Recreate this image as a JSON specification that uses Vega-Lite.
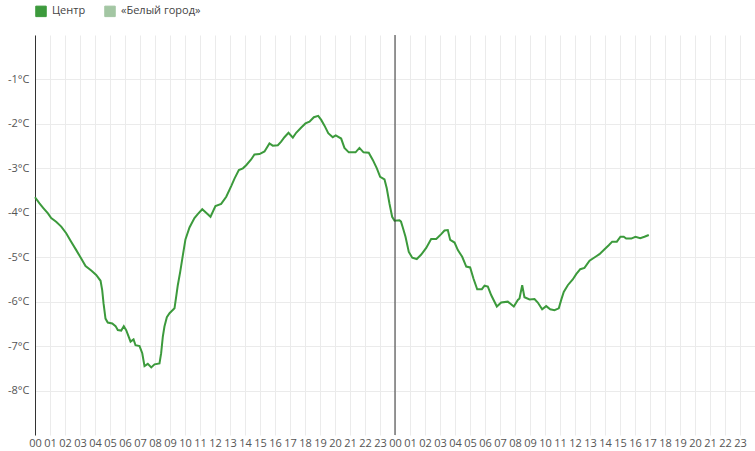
{
  "$schema": "https://vega.github.io/schema/vega-lite/v6.json",
  "width": 720,
  "height": 400,
  "autosize": {"type": "none"},
  "padding": {"left": 35, "top": 35, "right": 0, "bottom": 16},
  "config": {
    "view": {"stroke": null},
    "font": "Open Sans",
    "axis": {"gridColor": "#ebebeb", "gridWidth": 1, "labelFont": "Open Sans", "labelFontSize": 11, "labelColor": "#555", "ticks": false, "title": null}
  },
  "layer": [
    {
      "data": {"values": [
        {"h":0,"v":-3.65,"s":"Центр"},{"h":0.3,"v":-3.79,"s":"Центр"},{"h":0.57,"v":-3.9,"s":"Центр"},{"h":0.85,"v":-4.01,"s":"Центр"},{"h":1.08,"v":-4.12,"s":"Центр"},{"h":1.41,"v":-4.2,"s":"Центр"},{"h":1.75,"v":-4.31,"s":"Центр"},{"h":2.08,"v":-4.46,"s":"Центр"},{"h":2.41,"v":-4.65,"s":"Центр"},{"h":2.75,"v":-4.84,"s":"Центр"},{"h":3.08,"v":-5.03,"s":"Центр"},{"h":3.37,"v":-5.2,"s":"Центр"},{"h":3.75,"v":-5.3,"s":"Центр"},{"h":4.08,"v":-5.4,"s":"Центр"},{"h":4.37,"v":-5.53,"s":"Центр"},{"h":4.48,"v":-5.74,"s":"Центр"},{"h":4.57,"v":-6.04,"s":"Центр"},{"h":4.7,"v":-6.38,"s":"Центр"},{"h":4.85,"v":-6.47,"s":"Центр"},{"h":5.15,"v":-6.49,"s":"Центр"},{"h":5.37,"v":-6.55,"s":"Центр"},{"h":5.52,"v":-6.64,"s":"Центр"},{"h":5.75,"v":-6.65,"s":"Центр"},{"h":5.92,"v":-6.55,"s":"Центр"},{"h":6.08,"v":-6.64,"s":"Центр"},{"h":6.25,"v":-6.79,"s":"Центр"},{"h":6.37,"v":-6.9,"s":"Центр"},{"h":6.57,"v":-6.85,"s":"Центр"},{"h":6.7,"v":-6.98,"s":"Центр"},{"h":6.97,"v":-7.0,"s":"Центр"},{"h":7.15,"v":-7.16,"s":"Центр"},{"h":7.3,"v":-7.45,"s":"Центр"},{"h":7.52,"v":-7.4,"s":"Центр"},{"h":7.75,"v":-7.48,"s":"Центр"},{"h":7.97,"v":-7.41,"s":"Центр"},{"h":8.3,"v":-7.39,"s":"Центр"},{"h":8.41,"v":-7.16,"s":"Центр"},{"h":8.52,"v":-6.79,"s":"Центр"},{"h":8.63,"v":-6.56,"s":"Центр"},{"h":8.79,"v":-6.35,"s":"Центр"},{"h":8.97,"v":-6.26,"s":"Центр"},{"h":9.15,"v":-6.2,"s":"Центр"},{"h":9.3,"v":-6.15,"s":"Центр"},{"h":9.41,"v":-5.89,"s":"Центр"},{"h":9.52,"v":-5.63,"s":"Центр"},{"h":9.68,"v":-5.33,"s":"Центр"},{"h":9.85,"v":-4.97,"s":"Центр"},{"h":10.03,"v":-4.6,"s":"Центр"},{"h":10.3,"v":-4.33,"s":"Центр"},{"h":10.63,"v":-4.12,"s":"Центр"},{"h":10.85,"v":-4.03,"s":"Центр"},{"h":11.15,"v":-3.92,"s":"Центр"},{"h":11.41,"v":-4.0,"s":"Центр"},{"h":11.7,"v":-4.09,"s":"Центр"},{"h":12.03,"v":-3.85,"s":"Центр"},{"h":12.41,"v":-3.8,"s":"Центр"},{"h":12.75,"v":-3.64,"s":"Центр"},{"h":13.08,"v":-3.4,"s":"Центр"},{"h":13.3,"v":-3.23,"s":"Центр"},{"h":13.59,"v":-3.04,"s":"Центр"},{"h":13.86,"v":-3.0,"s":"Центр"},{"h":14.08,"v":-2.93,"s":"Центр"},{"h":14.41,"v":-2.8,"s":"Центр"},{"h":14.63,"v":-2.69,"s":"Центр"},{"h":14.97,"v":-2.68,"s":"Центр"},{"h":15.3,"v":-2.62,"s":"Центр"},{"h":15.63,"v":-2.44,"s":"Центр"},{"h":15.85,"v":-2.49,"s":"Центр"},{"h":16.19,"v":-2.48,"s":"Центр"},{"h":16.41,"v":-2.4,"s":"Центр"},{"h":16.63,"v":-2.3,"s":"Центр"},{"h":16.9,"v":-2.2,"s":"Центр"},{"h":17.19,"v":-2.31,"s":"Центр"},{"h":17.41,"v":-2.2,"s":"Центр"},{"h":17.75,"v":-2.08,"s":"Центр"},{"h":18.03,"v":-1.99,"s":"Центр"},{"h":18.3,"v":-1.95,"s":"Центр"},{"h":18.59,"v":-1.85,"s":"Центр"},{"h":18.88,"v":-1.82,"s":"Центр"},{"h":19.08,"v":-1.91,"s":"Центр"},{"h":19.3,"v":-2.04,"s":"Центр"},{"h":19.55,"v":-2.21,"s":"Центр"},{"h":19.85,"v":-2.3,"s":"Центр"},{"h":20.05,"v":-2.26,"s":"Центр"},{"h":20.41,"v":-2.33,"s":"Центр"},{"h":20.63,"v":-2.54,"s":"Центр"},{"h":20.92,"v":-2.64,"s":"Центр"},{"h":21.37,"v":-2.64,"s":"Центр"},{"h":21.63,"v":-2.54,"s":"Центр"},{"h":21.9,"v":-2.64,"s":"Центр"},{"h":22.25,"v":-2.65,"s":"Центр"},{"h":22.52,"v":-2.81,"s":"Центр"},{"h":22.79,"v":-3.0,"s":"Центр"},{"h":23.01,"v":-3.19,"s":"Центр"},{"h":23.3,"v":-3.25,"s":"Центр"},{"h":23.45,"v":-3.45,"s":"Центр"},{"h":23.63,"v":-3.79,"s":"Центр"},{"h":23.81,"v":-4.09,"s":"Центр"},{"h":23.97,"v":-4.18,"s":"Центр"},{"h":24.3,"v":-4.17,"s":"Центр"},{"h":24.4,"v":-4.2,"s":"Центр"},{"h":24.52,"v":-4.33,"s":"Центр"},{"h":24.7,"v":-4.54,"s":"Центр"},{"h":24.92,"v":-4.88,"s":"Центр"},{"h":25.15,"v":-5.01,"s":"Центр"},{"h":25.45,"v":-5.04,"s":"Центр"},{"h":25.75,"v":-4.94,"s":"Центр"},{"h":26.08,"v":-4.79,"s":"Центр"},{"h":26.41,"v":-4.59,"s":"Центр"},{"h":26.75,"v":-4.59,"s":"Центр"},{"h":27.08,"v":-4.48,"s":"Центр"},{"h":27.3,"v":-4.4,"s":"Центр"},{"h":27.52,"v":-4.39,"s":"Центр"},{"h":27.68,"v":-4.61,"s":"Центр"},{"h":27.97,"v":-4.67,"s":"Центр"},{"h":28.19,"v":-4.84,"s":"Центр"},{"h":28.48,"v":-4.99,"s":"Центр"},{"h":28.75,"v":-5.21,"s":"Центр"},{"h":29.01,"v":-5.23,"s":"Центр"},{"h":29.23,"v":-5.48,"s":"Центр"},{"h":29.48,"v":-5.72,"s":"Центр"},{"h":29.79,"v":-5.72,"s":"Центр"},{"h":29.97,"v":-5.64,"s":"Центр"},{"h":30.19,"v":-5.66,"s":"Центр"},{"h":30.41,"v":-5.85,"s":"Центр"},{"h":30.79,"v":-6.11,"s":"Центр"},{"h":31.08,"v":-6.02,"s":"Центр"},{"h":31.52,"v":-6.0,"s":"Центр"},{"h":31.92,"v":-6.11,"s":"Центр"},{"h":32.19,"v":-5.96,"s":"Центр"},{"h":32.3,"v":-5.93,"s":"Центр"},{"h":32.48,"v":-5.63,"s":"Центр"},{"h":32.63,"v":-5.9,"s":"Центр"},{"h":32.97,"v":-5.95,"s":"Центр"},{"h":33.3,"v":-5.94,"s":"Центр"},{"h":33.52,"v":-6.02,"s":"Центр"},{"h":33.81,"v":-6.17,"s":"Центр"},{"h":34.08,"v":-6.1,"s":"Центр"},{"h":34.35,"v":-6.17,"s":"Центр"},{"h":34.63,"v":-6.19,"s":"Центр"},{"h":34.92,"v":-6.15,"s":"Центр"},{"h":35.08,"v":-5.96,"s":"Центр"},{"h":35.25,"v":-5.78,"s":"Центр"},{"h":35.52,"v":-5.63,"s":"Центр"},{"h":35.85,"v":-5.5,"s":"Центр"},{"h":36.08,"v":-5.38,"s":"Центр"},{"h":36.35,"v":-5.27,"s":"Центр"},{"h":36.63,"v":-5.24,"s":"Центр"},{"h":36.97,"v":-5.08,"s":"Центр"},{"h":37.37,"v":-4.99,"s":"Центр"},{"h":37.63,"v":-4.93,"s":"Центр"},{"h":37.97,"v":-4.82,"s":"Центр"},{"h":38.25,"v":-4.73,"s":"Центр"},{"h":38.48,"v":-4.65,"s":"Центр"},{"h":38.79,"v":-4.65,"s":"Центр"},{"h":39.03,"v":-4.54,"s":"Центр"},{"h":39.25,"v":-4.54,"s":"Центр"},{"h":39.41,"v":-4.58,"s":"Центр"},{"h":39.75,"v":-4.58,"s":"Центр"},{"h":40.03,"v":-4.54,"s":"Центр"},{"h":40.35,"v":-4.57,"s":"Центр"},{"h":40.63,"v":-4.54,"s":"Центр"},{"h":40.92,"v":-4.5,"s":"Центр"}
      ]},
      "mark": {"type": "line", "strokeWidth": 2, "interpolate": "linear"},
      "encoding": {
        "x": {
          "field": "h", "type": "quantitative",
          "scale": {"domain": [0, 48], "nice": false, "zero": false},
          "axis": {
            "values": [0,1,2,3,4,5,6,7,8,9,10,11,12,13,14,15,16,17,18,19,20,21,22,23,24,25,26,27,28,29,30,31,32,33,34,35,36,37,38,39,40,41,42,43,44,45,46,47],
            "labelExpr": "format(datum.value % 24, '02d')",
            "domain": false, "grid": true, "labelOverlap": false, "labelFlush": false, "labelPadding": 2
          }
        },
        "y": {
          "field": "v", "type": "quantitative",
          "scale": {"domain": [-9, 0], "nice": false, "zero": false},
          "axis": {
            "values": [-1,-2,-3,-4,-5,-6,-7,-8],
            "labelExpr": "datum.value + '°C'",
            "domain": true, "domainColor": "#333", "domainWidth": 1, "grid": true, "labelPadding": 6
          }
        },
        "color": {
          "field": "s", "type": "nominal",
          "scale": {"domain": ["Центр", "«Белый город»"], "range": ["#3c9a3c", "#a3c6a3"]},
          "legend": {
            "title": null, "orient": "none", "legendX": 0, "legendY": -30, "direction": "horizontal",
            "symbolType": "square", "symbolSize": 110, "labelFontSize": 11, "labelColor": "#444", "labelFont": "Open Sans",
            "columnPadding": 16, "labelOffset": 5,
            "encode": {"symbols": {"update": {"fill": {"scale": "color", "field": "value"}, "stroke": {"value": "#777"}, "strokeWidth": {"value": 1}, "opacity": {"value": 1}}}}
          }
        }
      }
    },
    {
      "data": {"values": [{"h": 24}]},
      "mark": {"type": "rule", "color": "#333", "strokeWidth": 1},
      "encoding": {
        "x": {
          "field": "h", "type": "quantitative",
          "scale": {"domain": [0, 48], "nice": false, "zero": false},
          "axis": {
            "values": [0,1,2,3,4,5,6,7,8,9,10,11,12,13,14,15,16,17,18,19,20,21,22,23,24,25,26,27,28,29,30,31,32,33,34,35,36,37,38,39,40,41,42,43,44,45,46,47],
            "labelExpr": "format(datum.value % 24, '02d')",
            "domain": false, "grid": true, "labelOverlap": false, "labelFlush": false, "labelPadding": 2
          }
        }
      }
    }
  ]
}
